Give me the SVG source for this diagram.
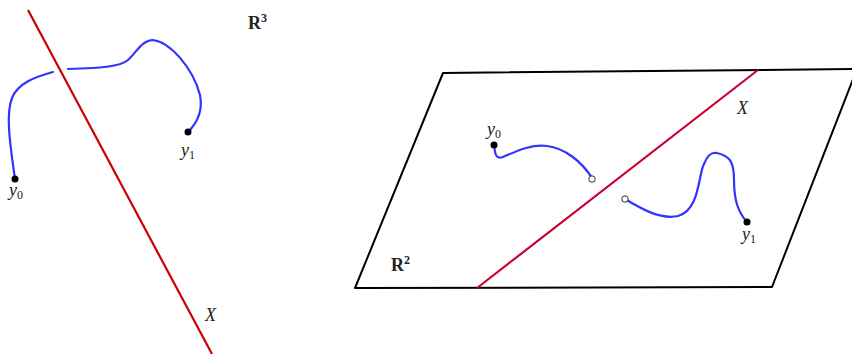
<svg xmlns="http://www.w3.org/2000/svg" width="852" height="354" viewBox="0 0 852 354">
<style>
.curve{fill:none;stroke:#3333ff;stroke-width:2.2;stroke-linecap:round}
.edge{fill:none;stroke:#000;stroke-width:2}
.lbl{font-family:"Liberation Serif",serif;font-size:18px;fill:#222}
.it{font-style:italic}
.bf{font-weight:bold}
.sub{font-size:12px;font-style:normal}
</style>
<rect width="852" height="354" fill="#fff"/>
<g id="connectors">
<line id="X3" x1="28" y1="10" x2="212" y2="354" stroke="#cc0000" stroke-width="2.2"/>
<path id="curve3a" class="curve" d="M15,179 C11,150 5,115 12,98 C18,83 35,77 53,72"/>
<path id="curve3b" class="curve" d="M68,69 C100,68 120,67 128,60 C136,53 142,40 153,40 C170,42 193,68 200,95 C203,110 197,123 188,132"/>
<polygon id="plane" class="edge" points="443,73 857,69 772,287 355,288" stroke-linejoin="round"/>
<line id="X2" x1="477" y1="288" x2="758" y2="70" stroke="#cc0033" stroke-width="2.2"/>
<path id="curve2a" class="curve" d="M494,145 C495,152 495,160 503,157 C515,152 530,144 547,146 C565,148 582,162 592,178"/>
<path id="curve2b" class="curve" d="M625,199 C640,208 660,220 678,216 C700,210 698,175 704,164 C708,154 712,152 717,153 C730,156 734,162 734,180 C734,200 738,212 747,222"/>
</g>
<g id="points">
<circle cx="15" cy="179" r="3.5" fill="#000"/>
<circle cx="188" cy="132" r="3.5" fill="#000"/>
<circle cx="494" cy="145" r="3.5" fill="#000"/>
<circle cx="747" cy="222" r="3.5" fill="#000"/>
<circle cx="592" cy="179" r="3.2" fill="#fff" stroke="#000" stroke-width="0.8"/>
<circle cx="625" cy="199" r="3.2" fill="#fff" stroke="#000" stroke-width="0.8"/>
</g>
<g id="labels">
<text class="lbl bf" x="248" y="29">R<tspan class="sub" dy="-7">3</tspan></text>
<text class="lbl it" x="9" y="196">y<tspan class="sub" dy="3">0</tspan></text>
<text class="lbl it" x="181" y="156">y<tspan class="sub" dy="3">1</tspan></text>
<text class="lbl it" x="205" y="321">X</text>
<text class="lbl bf" x="391" y="271">R<tspan class="sub" dy="-7">2</tspan></text>
<text class="lbl it" x="487" y="135">y<tspan class="sub" dy="3">0</tspan></text>
<text class="lbl it" x="742" y="240">y<tspan class="sub" dy="3">1</tspan></text>
<text class="lbl it" x="737" y="114">X</text>
</g>
</svg>
